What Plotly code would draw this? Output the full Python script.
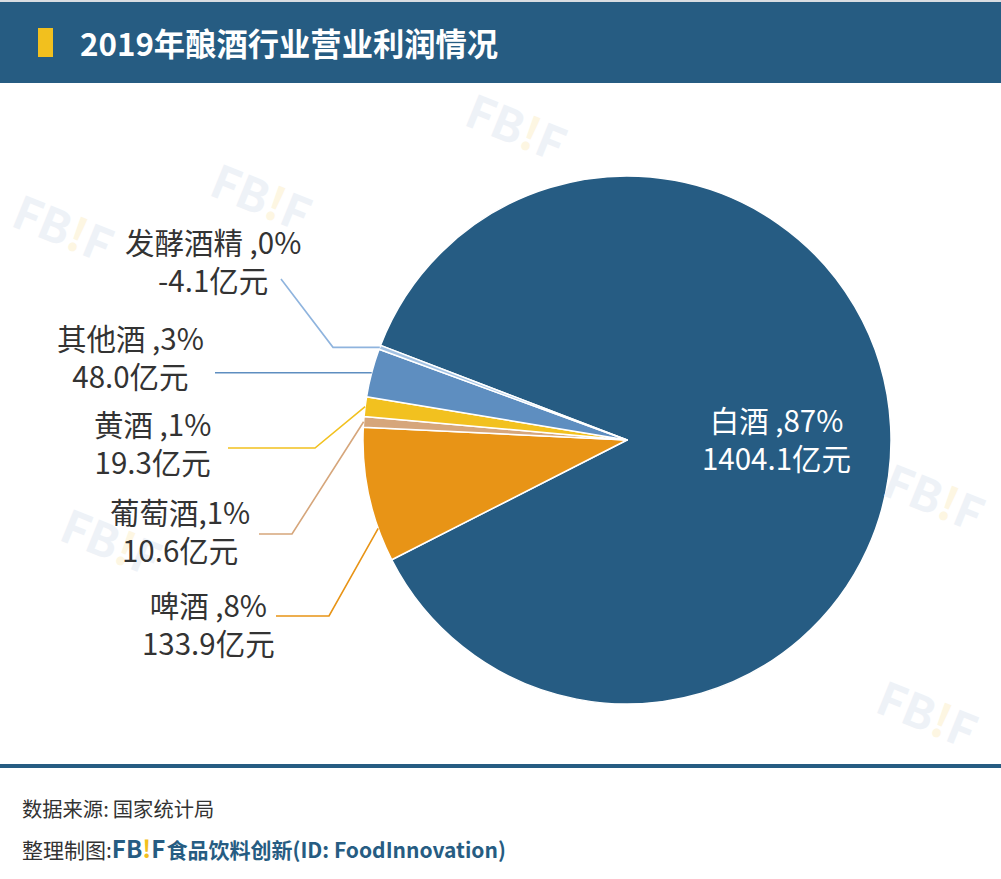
import math
import plotly.graph_objects as go

W, H = 1001, 879

# ---- data ----
categories = ["白酒", "啤酒", "葡萄酒", "黄酒", "其他酒", "发酵酒精"]
profits = [1404.1, 133.9, 10.6, 19.3, 48.0, -4.1]  # 亿元
separators = [" ,", " ,", ",", " ,", " ,", " ,"]
title_text = "2019年酿酒行业营业利润情况"
source_text = "数据来源:国家统计局"

# ---- style ----
slice_colors = ["#265c83", "#e89416", "#d6a67b", "#f2c11f", "#5e8ec0", "#a3c2e3"]
leader_colors = [None, "#e89416", "#d6a67b", "#f2c11f", "#5e8ec0", "#8fb4de"]
FONT = "Noto Sans CJK SC"
TXT = "#333333"
BLUE = "#265c82"
YEL = "#f2c01e"

cx, cy, R = 627, 440, 264
rotation = -69


def px(x):
    return x / W


def py(y):
    return 1 - y / H


sizes = [abs(v) for v in profits]
pos_total = sum(v for v in profits if v > 0)
pcts = [round(max(v, 0) / pos_total * 100) for v in profits]

fig = go.Figure()
fig.add_trace(go.Pie(
    labels=categories,
    values=sizes,
    sort=False,
    direction="clockwise",
    rotation=rotation,
    textinfo="none",
    hoverinfo="none",
    marker=dict(colors=slice_colors, line=dict(color="white", width=1.5)),
    domain=dict(x=[px(cx - R), px(cx + R)], y=[py(cy + R), py(cy - R)]),
    showlegend=False,
))

shapes = []
annotations = []

# faint watermarks (only where they do not overlap the pie)
wm_positions = [(517, 125), (262, 195), (64, 226), (112, 540), (935, 495), (928, 712)]
for (wx, wy) in wm_positions:
    annotations.append(dict(
        x=px(wx), y=py(wy), xref="paper", yref="paper", showarrow=False,
        xanchor="center", yanchor="middle",
        text="<b>FB<span style='color:#fdf6e2'>!</span>F</b>",
        font=dict(family=FONT, size=46, color="#eef2f7"), textangle=22,
    ))

# header
shapes.append(dict(type="rect", xref="paper", yref="paper", x0=0, x1=1, y0=py(2), y1=1,
                   fillcolor="#d9dde2", line=dict(width=0), layer="below"))
shapes.append(dict(type="rect", xref="paper", yref="paper", x0=0, x1=1, y0=py(83), y1=py(2),
                   fillcolor=BLUE, line=dict(width=0), layer="below"))
shapes.append(dict(type="rect", xref="paper", yref="paper", x0=px(38), x1=px(53), y0=py(57), y1=py(28),
                   fillcolor=YEL, line=dict(width=0)))
annotations.append(dict(x=px(78), y=py(42), xref="paper", yref="paper", showarrow=False,
                        xanchor="left", yanchor="middle", text="<b>" + title_text + "</b>",
                        font=dict(family=FONT, size=31.3, color="white")))

# footer
shapes.append(dict(type="rect", xref="paper", yref="paper", x0=0, x1=1, y0=py(768), y1=py(764),
                   fillcolor=BLUE, line=dict(width=0)))
annotations.append(dict(x=px(20), y=py(808), xref="paper", yref="paper", showarrow=False,
                        xanchor="left", yanchor="middle", text=source_text.replace(":", ":\u2009"),
                        font=dict(family=FONT, size=20.3, color=TXT)))
annotations.append(dict(
    x=px(20), y=py(847), xref="paper", yref="paper", showarrow=False,
    xanchor="left", yanchor="middle",
    text=("整理制图:<b><span style='color:%s;font-size:24px'>FB</span>"
          "<span style='color:%s;font-size:24px'>!</span>"
          "<span style='color:%s;font-size:24px'>F</span>\u200a"
          "<span style='color:%s'>食品饮料创新(ID: FoodInnovation)</span></b>") % (BLUE, YEL, BLUE, BLUE),
    font=dict(family=FONT, size=21, color=TXT)))

# slice geometry (clockwise angle from 12 o'clock)
total = sum(sizes)
starts = []
acc = 0.0
for s in sizes:
    starts.append(rotation + acc / total * 360)
    acc += s
spans = [s / total * 360 for s in sizes]


def edge_point(i, frac):
    a = math.radians(starts[i] + frac * spans[i])
    return cx + R * math.sin(a), cy - R * math.cos(a)


# label layout: (index, label center x, label center y, leader start, elbow x, anchor fraction)
label_layout = [
    (5, 213, 260, (281, 279), 333, 0.5),
    (4, 130, 356, (215, None), None, 0.5),
    (3, 152, 442, (228, 448), 315, 0.5),
    (2, 180, 530, (259, 534), 292, 0.5),
    (1, 208, 623, (276, 616), 329, 0.25),
]

for (i, lx, ly, start, ex, frac) in label_layout:
    ax, ay = edge_point(i, frac)
    sx, sy = start
    if sy is None:
        path = "M %f,%f L %f,%f" % (px(sx), py(ay), px(ax), py(ay))
    elif i == 5:
        path = "M %f,%f L %f,%f L %f,%f" % (px(sx), py(sy), px(ex), py(ay), px(ax), py(ay))
    else:
        path = "M %f,%f L %f,%f L %f,%f" % (px(sx), py(sy), px(ex), py(sy), px(ax), py(ay))
    shapes.append(dict(type="path", xref="paper", yref="paper", path=path,
                       line=dict(color=leader_colors[i], width=1.6)))
    annotations.append(dict(
        x=px(lx), y=py(ly), xref="paper", yref="paper", showarrow=False,
        xanchor="center", yanchor="middle", align="center",
        text="%s%s%d%%<br>%.1f亿元" % (categories[i], separators[i], pcts[i], profits[i]),
        font=dict(family=FONT, size=29.5, color=TXT)))

# inside label for the big slice
annotations.append(dict(
    x=px(776), y=py(438), xref="paper", yref="paper", showarrow=False,
    xanchor="center", yanchor="middle", align="center",
    text="%s%s%d%%<br>%.1f亿元" % (categories[0], separators[0], pcts[0], profits[0]),
    font=dict(family=FONT, size=29.5, color="white")))

fig.update_layout(
    width=W, height=H, margin=dict(l=0, r=0, t=0, b=0),
    paper_bgcolor="white", plot_bgcolor="white",
    shapes=shapes, annotations=annotations, showlegend=False,
)

fig.write_html("out.html")
